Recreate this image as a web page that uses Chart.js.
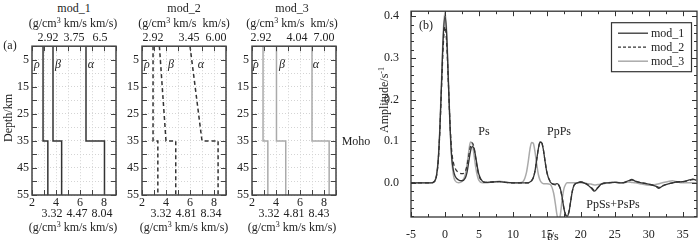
<!DOCTYPE html>
<html>
<head>
<meta charset="utf-8">
<script src="https://cdn.jsdelivr.net/npm/chart.js@4.4.1/dist/chart.umd.min.js"></script>
<style>
  body { margin: 0; background: #fff; }
  #wrap { position: relative; width: 700px; height: 242px; overflow: hidden;
          font-family: "Liberation Serif", serif; font-size: 12px; color: #222; }
  canvas { position: absolute; }
  .t { position: absolute; transform: translate(-50%, -50%); white-space: nowrap; line-height: 1; }
  .r { transform: translate(-50%, -50%) rotate(-90deg); }
  i { font-style: italic; }
  sup { font-size: 8px; vertical-align: 4px; line-height: 0; }
</style>
</head>
<body>
<div id="wrap">
  <canvas id="m1" width="118" height="173" style="left:2px;top:36px"></canvas>
  <canvas id="m2" width="118" height="173" style="left:112px;top:36px"></canvas>
  <canvas id="m3" width="118" height="173" style="left:222px;top:36px"></canvas>
  <canvas id="rf" width="330" height="242" style="left:370px;top:0px"></canvas>

  <div class="t" style="left:10px;top:45px">(a)</div>
  <div class="t r" style="left:8px;top:118px">Depth/km</div>
  <div class="t" style="left:356px;top:141px">Moho</div>

  <div class="t" style="left:74px;top:8px">mod_1</div>
  <div class="t" style="left:184px;top:8px">mod_2</div>
  <div class="t" style="left:292px;top:8px">mod_3</div>

  <div class="t" style="left:73px;top:23px">(g/cm<sup>3</sup> km/s km/s)</div>
  <div class="t" style="left:184px;top:23px">(g/cm<sup>3</sup> km/s &nbsp;km/s)</div>
  <div class="t" style="left:292px;top:23px">(g/cm<sup>3</sup> km/s &nbsp;km/s)</div>

  <div class="t" style="left:48px;top:37px">2.92</div>
  <div class="t" style="left:74px;top:37px">3.75</div>
  <div class="t" style="left:100px;top:37px">6.5</div>
  <div class="t" style="left:153px;top:37px">2.92</div>
  <div class="t" style="left:189px;top:37px">3.45</div>
  <div class="t" style="left:216px;top:37px">6.00</div>
  <div class="t" style="left:261px;top:37px">2.92</div>
  <div class="t" style="left:297px;top:37px">4.04</div>
  <div class="t" style="left:324px;top:37px">7.00</div>

  <div class="t" style="left:52px;top:213px">3.32</div>
  <div class="t" style="left:77px;top:213px">4.47</div>
  <div class="t" style="left:102px;top:213px">8.04</div>
  <div class="t" style="left:161px;top:213px">3.32</div>
  <div class="t" style="left:186px;top:213px">4.81</div>
  <div class="t" style="left:211px;top:213px">8.34</div>
  <div class="t" style="left:269px;top:213px">3.32</div>
  <div class="t" style="left:294px;top:213px">4.81</div>
  <div class="t" style="left:319px;top:213px">8.43</div>

  <div class="t" style="left:73px;top:227px">(g/cm<sup>3</sup> km/s km/s)</div>
  <div class="t" style="left:184px;top:227px">(g/cm<sup>3</sup> km/s km/s)</div>
  <div class="t" style="left:292px;top:227px">(g/cm<sup>3</sup> km/s km/s)</div>

  <div class="t" style="left:37px;top:64px"><i>ρ</i></div>
  <div class="t" style="left:58px;top:64px"><i>β</i></div>
  <div class="t" style="left:91px;top:64px"><i>α</i></div>
  <div class="t" style="left:147px;top:64px"><i>ρ</i></div>
  <div class="t" style="left:171px;top:64px"><i>β</i></div>
  <div class="t" style="left:201px;top:64px"><i>α</i></div>
  <div class="t" style="left:256px;top:64px"><i>ρ</i></div>
  <div class="t" style="left:282px;top:64px"><i>β</i></div>
  <div class="t" style="left:316px;top:64px"><i>α</i></div>

  <div class="t" style="left:426px;top:25px">(b)</div>
  <div class="t r" style="left:384px;top:100px">Amplitude/s<sup>-1</sup></div>
  <div class="t" style="left:553px;top:236px"><i>t</i>/s</div>
  <div class="t" style="left:484px;top:131px">Ps</div>
  <div class="t" style="left:559px;top:131px">PpPs</div>
  <div class="t" style="left:613px;top:204px">PpSs+PsPs</div>
</div>

<script>
// ---- panel (a): velocity / density models ----
const depthNodes = [0, 35, 35, 55];

const mod1Rho = [2.92, 2.92, 3.32, 3.32];
const mod1Vs  = [3.75, 3.75, 4.47, 4.47];
const mod1Vp  = [6.5, 6.5, 8.04, 8.04];

const mod2Rho = [2.92, 2.92, 3.32, 3.32];
const mod2Vs  = [3.45, 4.0, 4.81, 4.81];
const mod2Vp  = [6.0, 7.0, 8.34, 8.34];

const mod3Rho = [2.92, 2.92, 3.32, 3.32];
const mod3Vs  = [4.04, 4.04, 4.81, 4.81];
const mod3Vp  = [7.0, 7.0, 8.43, 8.43];

const velTicks = [2, 3, 4, 5, 6, 7, 8, 9];
const velLabels = [2, 4, 6, 8];
const depthTicks = [0, 5, 10, 15, 20, 25, 30, 35, 40, 45, 50, 55];
const depthLabels = [5, 15, 25, 35, 45, 55];

// ---- panel (b): receiver functions ----
const times = [
  -5, -3, -2, -1.5, -1.25, -1, -0.75, -0.5, -0.25,
  0, 0.25, 0.5, 0.75, 1, 1.25, 1.5, 2, 2.5,
  3, 3.25, 3.5, 3.75, 4, 4.25, 4.5, 4.75, 5, 5.5, 6,
  7, 8, 9, 10, 11, 11.5,
  12, 12.25, 12.5, 12.75, 13, 13.25, 13.5, 13.75, 14, 14.25, 14.5, 14.75, 15,
  15.5, 16, 16.25, 16.5, 16.75, 17, 17.25, 17.5, 17.75, 18, 18.25, 18.5, 18.75, 19, 19.5,
  20, 21, 21.5, 22, 22.5, 23, 24, 25, 26, 27, 27.5, 28, 29, 30, 31, 31.5, 32, 33, 33.5, 34, 35, 36, 36.5, 37
];
const rf1 = [
  0, 0, 0, 0.004, 0.017, 0.053, 0.13, 0.24, 0.35,
  0.40, 0.355, 0.245, 0.135, 0.06, 0.03, 0.016, 0.007, 0.005,
  0.012, 0.025, 0.05, 0.075, 0.087, 0.084, 0.065, 0.04, 0.02, 0.004, 0.001,
  0.002, 0.003, 0.001, 0, 0, 0,
  0, 0, 0.002, 0.005, 0.012, 0.028, 0.055, 0.082, 0.098, 0.096, 0.078, 0.05, 0.025,
  0.002, -0.003, -0.003, -0.002, -0.005, -0.015, -0.035, -0.06, -0.077, -0.08, -0.07, -0.045, -0.02, -0.006, 0,
  0.002, -0.005, -0.012, -0.02, -0.012, -0.003, 0, 0.001, 0, 0.005, 0.008, 0.004, 0, -0.003, -0.008, -0.013, -0.008, -0.002, 0, 0.002, 0.003, 0.007, 0.009, 0.006
];
const rf2 = [
  0, 0, 0, 0.004, 0.016, 0.05, 0.125, 0.23, 0.33,
  0.375, 0.335, 0.24, 0.14, 0.075, 0.048, 0.035, 0.025, 0.022,
  0.028, 0.042, 0.065, 0.087, 0.096, 0.087, 0.062, 0.036, 0.017, 0.004, 0.001,
  0.002, 0.003, 0.001, 0, 0, 0,
  0, 0, 0.002, 0.005, 0.012, 0.028, 0.055, 0.082, 0.097, 0.096, 0.078, 0.05, 0.026,
  0.003, -0.004, -0.005, -0.004, -0.006, -0.016, -0.036, -0.06, -0.076, -0.079, -0.069, -0.045, -0.02, -0.006, 0,
  0.002, -0.004, -0.01, -0.018, -0.011, -0.003, 0, 0.001, 0, 0.004, 0.007, 0.004, 0, -0.003, -0.007, -0.011, -0.007, -0.002, 0, 0.002, 0.003, 0.006, 0.008, 0.006
];
const rf3 = [
  0, 0, 0, 0.005, 0.018, 0.055, 0.133, 0.249, 0.362,
  0.41, 0.362, 0.249, 0.133, 0.055, 0.018, 0.005, 0, 0.003,
  0.02, 0.045, 0.075, 0.098, 0.095, 0.07, 0.04, 0.018, 0.006, 0, 0,
  0.002, 0.004, 0.001, 0, 0, 0.003,
  0.025, 0.05, 0.08, 0.097, 0.095, 0.075, 0.045, 0.02, 0.006, 0, -0.002, -0.002, -0.002,
  -0.004, -0.025, -0.05, -0.078, -0.09, -0.075, -0.04, -0.015, -0.004, 0, 0, 0, 0, 0, 0,
  0, -0.002, -0.003, -0.005, -0.004, -0.003, 0, 0.002, 0, 0.002, 0.001, 0, -0.003, -0.006, -0.004, -0.002, 0, 0.004, 0.005, 0.003, 0, 0, 0, 0
];
const seriesNames = ['mod_1', 'mod_2', 'mod_3'];
const timeTicks = [-5, 0, 5, 10, 15, 20, 25, 30, 35];
const ampTicks = [0, 0.1, 0.2, 0.3, 0.4];

Chart.defaults.font.family = '"Liberation Serif", "Times New Roman", serif';
Chart.defaults.font.size = 12;
const ink = '#222';
const styles = [
  { color: '#333', dash: [], width: 1.3 },
  { color: '#333', dash: [4, 3], width: 1.3 },
  { color: '#aaa', dash: [], width: 1.5 }
];

// box around the plot area with inward tick marks
const framePlugin = {
  id: 'frame',
  afterDatasetsDraw(chart, args, o) {
    const { ctx, chartArea: a, scales: { x, y } } = chart;
    ctx.save();
    ctx.strokeStyle = o.color || '#333';
    ctx.lineWidth = 1;
    ctx.beginPath();
    const tickX = (vals, len) => vals.forEach(v => {
      const p = Math.round(x.getPixelForValue(v)) + 0.5;
      ctx.moveTo(p, a.bottom); ctx.lineTo(p, a.bottom - len);
      ctx.moveTo(p, a.top); ctx.lineTo(p, a.top + len);
    });
    const tickY = (vals, len) => vals.forEach(v => {
      const p = Math.round(y.getPixelForValue(v)) + 0.5;
      ctx.moveTo(a.left, p); ctx.lineTo(a.left + len, p);
      ctx.moveTo(a.right, p); ctx.lineTo(a.right - len, p);
    });
    tickX(o.xMajor || [], 5); tickX(o.xMinor || [], 3);
    tickY(o.yMajor || [], 5); tickY(o.yMinor || [], 3);
    ctx.stroke();
    ctx.lineWidth = o.width || 1.5;
    ctx.strokeRect(a.left, a.top, a.right - a.left, a.bottom - a.top);
    ctx.restore();
  }
};
Chart.register(framePlugin);

function modelChart(id, rho, vs, vp, st) {
  const mk = vals => ({
    data: vals.map((v, i) => ({ x: v, y: depthNodes[i] })),
    borderColor: st.color, borderDash: st.dash, borderWidth: 1.5,
    pointRadius: 0, tension: 0, fill: false
  });
  new Chart(document.getElementById(id), {
    type: 'line',
    data: { datasets: [mk(rho), mk(vs), mk(vp)] },
    options: {
      responsive: false, animation: false, devicePixelRatio: 1,
      layout: { padding: { top: 8, right: 4, left: 0, bottom: 0 } },
      plugins: {
        legend: { display: false }, tooltip: { enabled: false },
        frame: { xMajor: velTicks, yMajor: depthTicks, color: '#444', width: 1.5 }
      },
      scales: {
        x: {
          type: 'linear', min: 2, max: 9,
          afterBuildTicks: s => { s.ticks = velTicks.map(v => ({ value: v })); },
          afterFit: s => { s.height = 14; },
          grid: { color: '#d4d4d4', drawTicks: false },
          border: { display: false, dash: [1, 2] },
          ticks: { padding: 1, color: ink, autoSkip: false, maxRotation: 0,
                   callback: v => velLabels.includes(v) ? String(v) : '' }
        },
        y: {
          type: 'linear', reverse: true, min: 0, max: 55,
          afterBuildTicks: s => { s.ticks = depthTicks.map(v => ({ value: v })); },
          afterFit: s => { s.width = 30; },
          grid: { color: '#d4d4d4', drawTicks: false },
          border: { display: false, dash: [1, 2] },
          ticks: { padding: 3, color: ink, autoSkip: false,
                   callback: v => depthLabels.includes(v) ? String(v) : '' }
        }
      }
    }
  });
}

// legend box drawn inside the plot area
const boxLegend = {
  id: 'boxLegend',
  afterDatasetsDraw(chart) {
    const { ctx, chartArea: a } = chart;
    const w = 80, h = 49;
    const left = a.right - 6 - w, top = a.top + 11;
    ctx.save();
    ctx.fillStyle = '#fff';
    ctx.fillRect(left, top, w, h);
    ctx.strokeStyle = '#333'; ctx.lineWidth = 1.2;
    ctx.strokeRect(left + 0.5, top + 0.5, w, h);
    ctx.font = '12px "Liberation Serif", serif';
    ctx.textBaseline = 'middle';
    chart.data.datasets.forEach((ds, i) => {
      const yy = top + 11 + i * 14;
      ctx.beginPath();
      ctx.strokeStyle = ds.borderColor; ctx.lineWidth = ds.borderWidth;
      ctx.setLineDash(i === 1 ? [3, 2] : []);
      ctx.moveTo(left + 7, yy); ctx.lineTo(left + 37, yy);
      ctx.stroke();
      ctx.setLineDash([]);
      ctx.fillStyle = ink;
      ctx.fillText(ds.label, left + 40, yy + 1);
    });
    ctx.restore();
  }
};

function drawAll() {
  modelChart('m1', mod1Rho, mod1Vs, mod1Vp, styles[0]);
  modelChart('m2', mod2Rho, mod2Vs, mod2Vp, styles[1]);
  modelChart('m3', mod3Rho, mod3Vs, mod3Vp, styles[2]);

  const yMinor = [];
  for (let v = -0.08; v < 0.41; v += 0.02) {
    const r = Math.round(v * 100) / 100;
    if (Math.abs(r * 10 - Math.round(r * 10)) > 1e-6) yMinor.push(r);
  }
  const xMinor = timeTicks.map(t => t + 2.5);

  new Chart(document.getElementById('rf'), {
    type: 'line',
    data: {
      datasets: [rf1, rf2, rf3].map((s, i) => ({
        label: seriesNames[i],
        data: times.map((t, j) => ({ x: t, y: s[j] })),
        borderColor: styles[i].color, borderDash: styles[i].dash, borderWidth: styles[i].width,
        pointRadius: 0, cubicInterpolationMode: 'monotone', fill: false
      }))
    },
    options: {
      responsive: false, animation: false, devicePixelRatio: 1,
      layout: { padding: { top: 7, right: 3, left: 0, bottom: 0 } },
      plugins: {
        legend: { display: false }, tooltip: { enabled: false },
        frame: { xMajor: timeTicks, xMinor, yMajor: ampTicks, yMinor, color: '#333', width: 1.3 }
      },
      scales: {
        x: {
          type: 'linear', min: -5, max: 37.1,
          afterBuildTicks: s => { s.ticks = timeTicks.map(v => ({ value: v })); },
          afterFit: s => { s.height = 25; },
          grid: { display: false }, border: { display: false },
          ticks: { padding: 3, color: ink, autoSkip: false, maxRotation: 0 }
        },
        y: {
          type: 'linear', min: -0.082, max: 0.412,
          afterBuildTicks: s => { s.ticks = ampTicks.map(v => ({ value: v })); },
          afterFit: s => { s.width = 41; },
          grid: { display: false }, border: { display: false },
          ticks: { padding: 4, color: ink, autoSkip: false, callback: v => v.toFixed(1) }
        }
      }
    },
    plugins: [boxLegend]
  });
}

document.fonts.load('12px "Liberation Serif"').then(drawAll, drawAll);
</script>
</body>
</html>
